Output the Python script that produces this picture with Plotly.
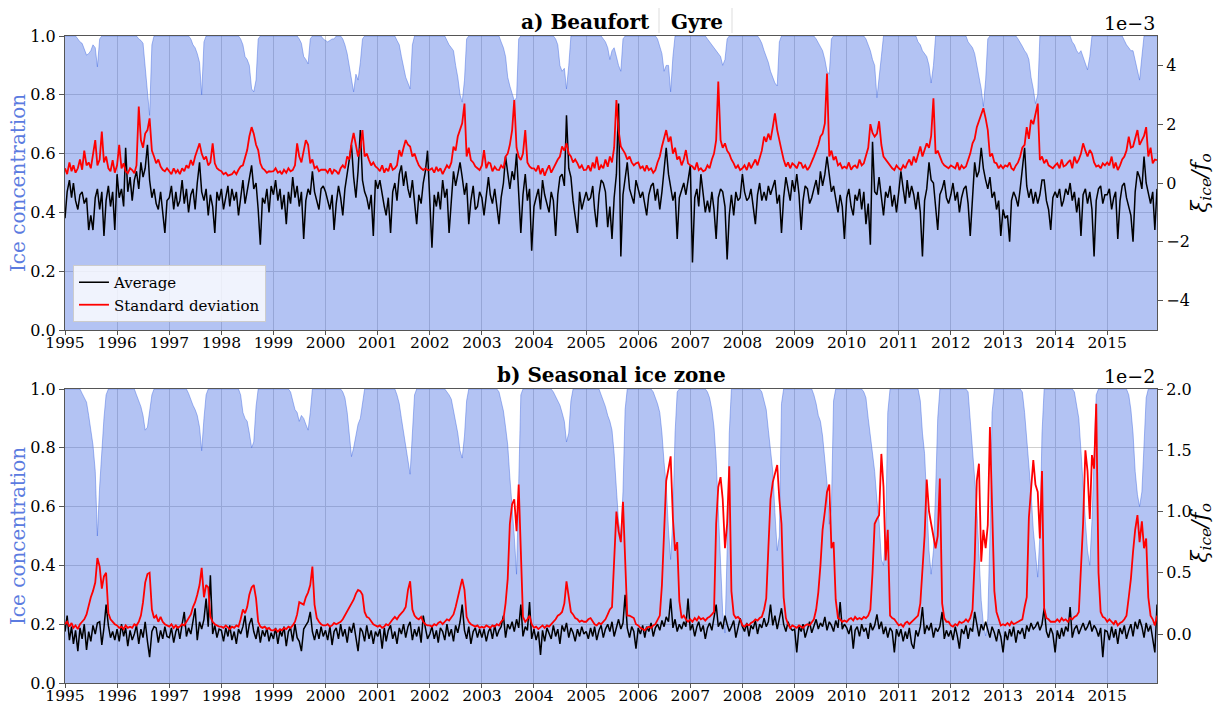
import datetime as dt
import plotly.graph_objects as go

years = list(range(1995, 2016))

# ---- Panel a) Beaufort Gyre : ice concentration (semi-monthly, one row per year)
ice_a = [
 [1,1,1,1,1,1,0.99,0.98,0.975,0.955,0.935,0.94,0.95,0.97,0.96,0.895,0.99,1,1,1,1,1,1,1],
 [1,1,1,1,1,1,1,1,1,1,0.99,0.985,0.975,0.9,0.82,0.73,0.97,1,1,1,1,1,1,1],
 [1,1,1,1,1,1,1,1,1,1,0.99,0.97,0.96,0.94,0.91,0.8,0.98,1,1,1,1,1,1,1],
 [1,1,1,1,1,1,1,1,1,0.99,0.97,0.93,0.92,0.9,0.82,0.81,0.85,0.99,1,1,1,1,1,1],
 [1,1,1,1,1,1,1,1,1,1,1,1,0.99,0.975,0.93,0.92,0.905,0.99,1,1,1,1,1,0.99],
 [0.985,0.98,0.985,0.99,0.99,1,1,1,0.99,0.97,0.94,0.9,0.86,0.81,0.87,0.85,0.91,0.99,1,1,1,1,1,1],
 [1,1,1,1,1,1,1,1,1,0.985,0.97,0.93,0.9,0.86,0.84,0.82,0.97,1,1,1,1,1,1,1],
 [1,1,1,1,1,1,1,1,0.985,0.97,0.96,0.95,0.9,0.86,0.8,0.775,0.85,0.99,1,1,1,1,1,1],
 [1,1,1,1,1,1,1,1,1,0.98,0.96,0.93,0.86,0.83,0.8,0.78,0.79,0.99,1,1,1,1,1,1],
 [1,1,1,1,1,1,1,1,1,1,0.99,0.97,0.9,0.88,0.89,0.82,0.9,1,1,1,1,1,1,1],
 [1,1,1,1,1,1,1,1,0.99,0.98,0.96,0.92,0.95,0.96,0.93,0.9,0.88,0.99,1,1,1,1,1,1],
 [1,1,1,1,1,1,1,1,1,0.99,0.96,0.94,0.88,0.9,0.9,0.81,0.93,1,1,1,1,1,1,1],
 [1,1,1,1,1,1,1,1,0.99,0.98,0.97,0.96,0.95,0.94,0.93,0.9,0.92,0.99,1,1,1,1,1,1],
 [1,1,1,1,1,1,1,1,0.99,0.975,0.95,0.93,0.91,0.88,0.86,0.84,0.83,0.98,1,1,1,1,1,1],
 [1,1,1,1,1,1,1,1,1,1,0.99,0.975,0.96,0.95,0.92,0.88,0.87,0.99,1,1,1,1,1,1],
 [1,1,1,1,1,1,1,1,1,0.99,0.97,0.95,0.92,0.9,0.79,0.87,0.93,1,1,1,1,1,1,1],
 [1,1,1,1,1,1,1,1,1,0.98,0.97,0.95,0.94,0.93,0.9,0.84,0.9,1,1,1,1,1,1,1],
 [1,1,1,1,1,1,1,1,0.98,0.97,0.96,0.94,0.9,0.85,0.82,0.76,0.85,0.99,1,1,1,1,1,1],
 [1,1,1,1,1,1,1,0.99,0.975,0.965,0.95,0.94,0.92,0.86,0.82,0.77,0.8,1,1,1,1,1,1,1],
 [1,1,1,1,1,1,1,1,0.98,0.97,0.95,0.94,0.95,0.93,0.91,0.885,0.93,1,1,1,1,1,1,1],
 [1,1,1,1,1,1,1,1,0.985,0.97,0.96,0.95,0.95,0.92,0.88,0.85,0.93,1,1,1,1,1,1,1],
]

# ---- Panel a) average of xi_ice/f_o (units of 1e-3)
avg_a = [
 [-1.2,-0.3,0.1,-0.5,0.0,-0.6,-0.9,-0.4,-0.3,-0.7,-0.5,-1.6,-1.1,-1.6,-0.5,-0.2,-0.9,-0.3,-1.8,-0.6,-0.1,-0.8,-0.3,-1.6],
 [0.3,-0.5,-0.2,-0.8,1.2,-0.3,0.2,-0.6,0.1,0.4,-0.2,0.7,0.2,0.5,1.3,0.1,-0.5,-0.2,-0.7,-0.9,-0.3,-1.1,-1.7,-0.6],
 [-0.5,-0.1,-0.9,-0.3,-0.8,-0.6,0.1,-0.7,-0.2,-1.0,-0.4,-0.2,-0.9,0.0,0.7,-0.3,-0.6,-0.2,-1.1,-0.4,-0.8,-1.7,-0.3,-0.6],
 [-0.2,-0.9,-0.5,-0.1,-0.8,-0.2,-0.6,-0.3,-1.1,-0.4,0.1,-0.7,-0.3,0.2,0.6,-0.2,0.0,-0.9,-2.1,-0.5,-0.7,-0.2,-1.0,-0.1],
 [-0.4,0.1,-0.6,-0.2,-0.9,-0.4,-1.4,-0.3,-0.7,0.2,-0.5,-0.1,-0.8,-0.3,-1.9,-0.6,-0.2,-0.4,0.4,-0.3,-0.6,-0.9,-0.2,-0.1],
 [-0.3,-0.6,-0.9,-0.4,-1.6,-0.7,-0.1,-0.5,-1.1,-0.2,0.3,0.9,1.3,0.2,-0.5,0.4,1.8,0.1,-0.3,-0.5,-0.9,-0.4,-1.8,0.1],
 [-0.2,0.1,-0.4,-0.8,-1.1,-0.5,-1.7,-0.3,0.0,-0.6,0.3,0.6,-0.1,0.4,-0.2,-0.5,0.1,-0.8,-1.4,-0.4,-0.7,0.0,0.4,1.1],
 [-0.6,-2.2,-0.4,-0.8,-0.3,-0.9,0.1,-0.5,-0.2,-1.7,-0.6,0.4,-0.1,0.3,0.7,0.2,-0.4,0.0,-1.4,-0.6,-0.1,-0.9,-0.8,-0.3],
 [-0.5,-1.1,-0.3,0.2,-0.4,-0.7,-0.2,-0.9,-1.4,-0.5,0.0,0.9,0.3,-0.2,0.4,0.1,1.0,-0.3,-1.7,-0.4,0.3,-0.6,-0.2,-2.3],
 [-0.8,-0.5,-0.2,-0.9,0.1,-0.4,-0.7,-1.0,-0.3,-0.6,-1.8,-0.4,0.2,0.3,-0.1,2.3,0.5,0.2,-0.6,-1.1,-1.7,-0.3,-0.9,-0.6],
 [-0.3,-0.6,-0.5,-0.1,-0.9,-1.5,-0.4,0.1,0.0,-0.3,-1.5,-0.8,-1.9,-0.5,0.3,2.7,-2.5,-0.4,0.2,0.7,-0.2,-0.5,-0.7,0.1],
 [-0.2,-0.5,-0.3,-0.8,-1.1,-0.4,-0.1,0.0,-0.6,-0.2,-0.9,-0.3,0.4,1.2,0.3,-0.1,-0.6,-0.3,-1.9,-0.5,-0.2,0.0,-0.4,0.1],
 [0.6,-2.7,-0.5,-0.2,-0.8,0.3,-0.4,-1.0,-0.6,-1.0,-0.3,-0.9,-1.9,-0.5,-0.2,-0.3,-0.8,-2.6,-1.1,-0.4,-1.1,-0.3,-0.6,-0.5],
 [0.3,-0.3,-0.6,-0.5,-0.2,-0.9,-1.4,-0.4,0.0,-0.6,-0.3,-0.6,-0.1,-0.4,-0.1,0.1,-0.7,-0.4,-1.7,-0.5,0.2,-0.2,-0.6,0.1],
 [-0.3,0.3,-0.4,-1.6,-0.6,-0.1,-0.2,-0.7,-0.5,-0.2,0.1,-0.4,0.4,-0.1,0.3,0.9,0.2,-0.3,-0.1,-0.6,-1.0,-0.4,-0.8,-1.9],
 [-0.5,-0.2,-0.8,-1.1,-0.4,-0.6,-0.2,-0.9,-0.3,-1.4,-0.7,-2.1,1.4,-0.3,-0.4,0.2,-0.6,-1.1,-0.3,-0.5,-0.1,-0.8,-0.4,-1.0],
 [-0.3,0.4,-0.2,-0.7,0.1,-0.5,-0.1,-0.4,-0.9,-0.3,-1.0,-2.5,-0.6,-0.2,0.7,0.1,0.0,-0.7,-1.6,-0.4,-0.2,0.1,-0.5,-0.7],
 [-0.4,0.0,-0.6,-0.3,-1.0,-0.5,-0.2,-0.1,-0.7,-1.8,-0.3,0.7,0.2,0.4,1.2,0.5,0.1,-0.2,0.2,-0.5,-0.3,-0.9,-0.6,-1.8],
 [-0.9,-1.2,-1.1,-2.0,-0.6,-0.3,-0.5,-0.8,-0.2,0.4,1.2,-0.1,-0.5,-0.2,-0.7,-0.3,-0.7,-0.4,0.1,0.1,-0.6,-0.9,-1.6,-0.5],
 [-0.3,-0.5,-0.2,-0.8,-0.6,-0.2,-0.4,0.0,-0.6,-0.3,-1.0,-0.5,-1.8,-0.4,-0.2,-0.7,-0.3,-0.9,-2.5,-0.6,-0.2,-0.1,-0.7,-0.4],
 [-0.4,-0.2,-0.9,-0.5,-0.3,-1.9,-0.6,-0.1,0.0,-0.5,-0.8,-1.1,-2.0,-0.3,0.4,0.2,-0.2,0.9,0.0,-0.4,-0.7,-0.3,-1.6,-0.2],
]

# ---- Panel a) standard deviation (units of 1e-3)
std_a = [
 [0.5,0.3,0.7,0.4,0.6,0.35,0.5,0.8,0.45,1.1,0.6,0.7,0.5,0.9,1.46,0.6,0.8,1.75,0.7,0.9,0.5,0.4,0.78,0.35],
 [0.6,1.3,0.5,0.67,0.4,0.33,0.5,0.44,0.33,0.6,2.6,1.46,1.2,1.68,1.8,2.2,1.1,0.9,0.67,0.8,0.56,0.45,0.4,0.5],
 [0.4,0.3,0.5,0.35,0.44,0.3,0.5,0.4,0.6,0.5,0.78,0.6,0.9,1.1,1.35,1.0,0.8,0.9,0.6,0.7,1.35,0.67,0.5,0.44],
 [0.4,0.3,0.35,0.25,0.27,0.3,0.4,0.3,0.45,0.56,0.6,0.9,1.12,1.58,1.9,1.68,1.3,1.12,0.67,0.5,0.44,0.35,0.4,0.39],
 [0.4,0.5,0.35,0.4,0.3,0.45,0.35,0.5,0.4,0.44,0.6,1.35,0.9,0.7,1.1,1.46,1.3,0.67,0.8,0.5,0.56,0.4,0.45,0.44],
 [0.45,0.35,0.5,0.3,0.45,0.4,0.3,0.5,0.6,0.5,0.9,0.8,1.35,1.7,1.3,0.9,1.2,1.8,0.9,1.0,0.78,0.6,0.7,0.56],
 [0.5,0.4,0.6,0.35,0.5,0.4,0.67,0.45,0.5,0.6,1.12,0.9,1.2,1.46,1.3,1.24,0.9,1.0,0.78,0.6,0.5,0.44,0.5,0.44],
 [0.45,0.5,0.35,0.55,0.4,0.5,0.3,0.45,0.6,0.5,0.7,1.24,1.1,1.58,1.8,2.03,2.7,0.9,1.2,0.78,0.7,0.56,0.5,0.44],
 [0.6,1.12,0.5,0.7,0.67,0.4,0.55,0.45,0.44,0.6,0.5,0.9,1.0,1.3,1.8,2.82,1.2,0.9,0.78,1.0,1.8,0.7,0.56,0.5],
 [0.5,0.4,0.6,0.3,0.5,0.25,0.45,0.6,0.35,0.5,0.67,0.8,0.9,1.24,1.1,1.35,1.0,0.9,0.7,0.8,0.67,0.5,0.6,0.44],
 [0.45,0.6,0.4,0.7,0.5,0.9,0.45,0.6,0.5,0.8,0.55,0.9,0.7,1.2,2.82,1.8,1.24,1.1,1.0,0.8,0.9,0.7,0.6,0.67],
 [0.7,0.5,0.56,0.4,0.6,0.44,0.5,0.35,0.44,0.7,0.9,1.24,1.5,1.8,1.4,1.58,1.0,1.2,0.8,0.9,0.6,0.8,1.12,0.67],
 [0.6,0.56,0.45,0.7,0.44,0.5,0.4,0.44,0.6,0.5,0.8,1.0,1.46,3.45,1.46,1.2,1.35,1.1,1.0,0.8,0.67,0.5,0.6,0.44],
 [0.5,0.6,0.44,0.7,0.5,0.67,0.8,0.6,0.9,1.1,1.58,1.4,1.68,1.46,1.9,2.37,1.8,1.4,1.12,0.8,0.56,0.7,0.5,0.67],
 [0.6,0.5,0.7,0.67,0.5,0.6,0.44,0.55,0.7,0.9,1.1,1.3,1.58,1.68,2.03,3.72,0.9,1.1,0.78,0.9,0.6,0.67,0.5,0.56],
 [0.5,0.7,0.45,0.56,0.6,0.5,0.8,0.6,0.67,0.9,1.2,2.0,1.7,1.58,1.68,2.1,1.3,0.9,0.8,0.67,0.6,0.5,0.44,0.6],
 [0.5,0.44,0.6,0.5,0.67,0.8,0.6,0.9,0.7,1.0,1.24,0.9,1.1,1.35,1.2,1.6,2.88,1.0,1.1,0.9,0.7,0.6,0.56,0.5],
 [0.6,0.56,0.5,0.7,0.44,0.6,0.5,0.56,0.8,1.0,1.35,1.5,1.9,2.1,2.37,2.54,2.2,1.8,0.9,1.0,0.7,0.67,0.5,0.6],
 [0.5,0.6,0.56,0.7,0.5,0.44,0.6,0.7,0.9,1.2,1.3,1.9,1.5,2.15,2.0,2.37,2.7,0.78,0.9,0.67,0.8,0.6,0.56,0.5],
 [0.6,0.67,0.5,0.8,0.56,0.6,0.7,0.78,0.5,0.9,0.67,0.8,1.0,1.35,1.1,0.9,1.12,1.0,0.7,0.56,0.6,0.5,0.67,0.6],
 [0.7,0.6,0.9,0.5,0.7,0.44,0.6,0.8,0.9,1.1,1.58,1.2,1.24,1.5,1.8,1.3,1.46,1.6,1.9,0.9,1.2,0.67,0.8,0.78],
]

# ---- Panel b) Seasonal ice zone : ice concentration
ice_b = [
 [1,1,1,1,1,1,1,1,0.985,0.97,0.955,0.91,0.86,0.81,0.72,0.5,0.67,0.8,0.9,0.98,1,1,1,1],
 [1,1,1,1,1,1,1,1,1,0.98,0.96,0.94,0.91,0.86,0.87,0.92,0.98,1,1,1,1,1,1,1],
 [1,1,1,1,1,1,1,1,1,0.985,0.96,0.945,0.93,0.91,0.87,0.79,0.9,0.98,1,1,1,1,1,1],
 [1,1,1,1,1,1,1,1,1,0.98,0.92,0.9,0.89,0.85,0.8,0.82,0.94,1,1,1,1,1,1,1],
 [1,1,1,1,1,1,1,1,0.99,0.96,0.93,0.92,0.89,0.91,0.9,0.88,0.86,0.92,1,1,1,1,1,1],
 [1,1,1,1,1,1,1,1,0.99,0.97,0.92,0.85,0.77,0.8,0.84,0.88,0.9,0.96,1,1,1,1,1,1],
 [1,1,1,1,1,1,1,1,1,0.98,0.95,0.9,0.85,0.8,0.76,0.71,0.85,0.98,1,1,1,1,1,1],
 [1,1,1,1,1,1,1,1,0.99,0.98,0.965,0.93,0.89,0.85,0.79,0.765,0.84,0.96,1,1,1,1,1,1],
 [1,1,1,1,1,1,1,1,0.99,0.96,0.925,0.87,0.81,0.7,0.6,0.5,0.37,0.7,0.98,1,1,1,1,1],
 [1,1,1,1,1,1,1,1,1,0.99,0.975,0.96,0.945,0.92,0.89,0.82,0.85,0.96,1,1,1,1,1,1],
 [1,1,1,1,1,1,1,0.98,0.96,0.94,0.91,0.89,0.86,0.78,0.66,0.55,0.5,0.65,0.93,1,1,1,1,1],
 [1,1,1,1,1,1,1,0.99,0.97,0.95,0.92,0.85,0.75,0.67,0.52,0.42,0.56,0.85,0.99,1,1,1,1,1],
 [1,1,1,1,1,1,1,1,0.99,0.97,0.93,0.87,0.76,0.58,0.4,0.24,0.17,0.45,0.85,1,1,1,1,1],
 [1,1,1,1,1,1,1,1,1,0.99,0.96,0.93,0.86,0.8,0.72,0.58,0.45,0.5,0.95,1,1,1,1,1],
 [1,1,1,1,1,1,1,1,1,0.98,0.95,0.91,0.89,0.84,0.76,0.68,0.54,0.6,0.96,1,1,1,1,1],
 [1,1,1,1,1,1,1,1,0.99,0.97,0.9,0.84,0.78,0.72,0.62,0.55,0.42,0.4,0.5,0.92,1,1,1,1],
 [1,1,1,1,1,1,1,1,1,1,0.96,0.85,0.78,0.62,0.45,0.37,0.45,0.65,0.9,1,1,1,1,1],
 [1,1,1,1,1,1,1,1,0.99,0.9,0.8,0.7,0.6,0.44,0.28,0.2,0.16,0.22,0.5,0.92,1,1,1,1],
 [1,1,1,1,1,1,1,1,1,0.99,0.92,0.83,0.75,0.65,0.52,0.43,0.36,0.5,0.85,1,1,1,1,1],
 [1,1,1,1,1,1,1,1,1,0.99,0.95,0.9,0.79,0.66,0.55,0.45,0.4,0.55,0.79,0.98,1,1,1,1],
 [1,1,1,1,1,1,1,1,1,1,0.98,0.93,0.85,0.72,0.64,0.6,0.65,0.8,0.97,1,1,1,1,1],
]

# ---- Panel b) average (units of 1e-2)
avg_b = [
 [0.02,0.15,-0.05,0.06,-0.08,0.03,-0.14,0.05,-0.04,0.08,-0.13,0.02,-0.06,0.07,0.0,0.09,0.1,-0.09,0.05,0.24,0.07,-0.03,0.02,-0.05],
 [0.04,-0.06,0.08,-0.02,0.05,-0.1,0.03,-0.05,0.0,0.07,-0.08,0.04,-0.03,0.1,-0.06,-0.19,0.02,0.06,0.05,-0.07,0.03,-0.04,0.06,-0.02],
 [-0.03,0.05,-0.07,0.02,0.06,-0.04,0.08,0.18,-0.02,0.05,0.0,0.09,0.21,-0.05,0.1,0.04,0.12,0.29,0.06,0.48,0.0,0.07,-0.03,0.04],
 [0.03,-0.06,0.05,-0.02,0.07,-0.05,0.02,-0.08,0.04,0.0,0.06,0.15,-0.03,0.08,0.13,0.02,-0.04,0.06,-0.07,0.03,-0.02,0.05,-0.06,0.01],
 [-0.04,0.05,-0.08,0.03,-0.02,0.06,-0.1,0.02,0.05,-0.06,0.08,-0.03,-0.06,-0.14,0.04,0.07,0.1,0.18,0.02,-0.05,0.04,-0.04,0.06,-0.02],
 [0.03,-0.05,0.06,-0.09,0.02,0.05,-0.04,0.08,-0.02,0.04,-0.07,0.06,0.01,0.09,-0.03,-0.14,0.05,0.02,-0.06,0.07,-0.04,0.03,-0.08,0.02],
 [-0.02,0.04,-0.12,0.05,-0.06,0.03,0.07,-0.04,0.02,-0.08,0.05,0.0,0.08,-0.03,0.06,0.1,-0.05,0.04,-0.02,0.06,-0.07,0.15,0.05,-0.04],
 [0.0,0.06,-0.04,0.03,-0.07,0.05,0.02,-0.05,0.08,-0.02,0.04,-0.06,0.07,0.01,0.1,0.24,0.03,-0.04,0.06,-0.08,0.02,0.05,-0.03,0.04],
 [-0.03,0.04,-0.06,0.02,0.05,-0.04,0.07,-0.02,0.03,0.06,0.15,-0.03,0.08,0.04,0.1,0.02,0.12,0.05,0.24,-0.02,0.06,0.03,0.26,-0.04],
 [0.04,-0.05,0.02,-0.17,0.03,-0.06,0.05,0.0,-0.04,0.07,-0.02,0.04,-0.08,0.07,0.02,0.09,-0.03,0.05,0.01,-0.06,0.04,-0.02,0.06,0.0],
 [0.02,-0.04,0.05,-0.02,0.06,-0.05,0.03,0.07,-0.03,0.04,0.08,0.02,0.1,-0.02,0.06,0.12,0.04,0.09,0.32,0.05,-0.03,0.06,0.02,-0.12],
 [0.05,0.0,0.07,-0.03,0.06,0.02,0.09,-0.02,0.05,0.08,0.03,0.11,0.06,0.14,0.1,0.29,0.05,0.12,0.02,0.08,0.04,0.1,0.06,0.29],
 [0.03,0.08,-0.02,0.06,0.1,0.02,0.07,-0.04,0.05,0.09,0.03,0.12,0.24,0.06,0.1,0.04,0.15,0.08,0.02,0.06,0.11,-0.03,0.05,0.13],
 [0.06,0.02,0.09,-0.02,0.07,0.04,0.11,0.0,0.08,0.05,0.13,0.06,0.1,0.24,0.07,0.15,0.04,0.12,0.21,0.08,0.02,0.1,0.05,0.03],
 [0.04,-0.15,0.06,0.02,0.08,-0.03,0.05,0.1,0.01,0.07,0.12,0.04,0.09,0.06,0.14,0.03,0.1,0.07,0.02,0.11,0.05,0.26,0.04,0.08],
 [0.05,0.0,0.07,-0.12,0.03,0.06,-0.02,0.08,0.02,0.05,-0.04,0.09,0.03,0.07,0.16,0.04,0.1,0.0,0.06,-0.03,0.05,0.02,-0.15,0.04],
 [-0.02,0.04,-0.06,0.02,-0.04,0.05,-0.08,-0.12,0.03,-0.02,0.06,0.22,0.0,0.07,0.03,0.09,-0.03,0.05,0.02,0.06,0.18,-0.04,0.03,-0.02],
 [0.03,-0.05,0.06,-0.02,-0.12,0.04,0.0,0.07,-0.04,0.05,0.02,0.18,0.06,-0.02,0.08,0.03,0.1,0.04,-0.03,0.06,0.01,-0.06,0.04,-0.02],
 [-0.15,0.02,-0.05,0.04,-0.02,0.06,-0.07,0.03,0.0,0.05,-0.04,0.07,0.02,0.09,0.04,0.06,0.1,0.03,0.08,0.21,0.02,-0.03,0.05,0.0],
 [-0.15,0.03,-0.04,0.05,-0.02,0.06,0.02,0.22,-0.03,0.04,0.07,0.0,0.05,0.09,0.03,0.06,0.11,0.02,0.07,0.04,-0.02,0.05,-0.19,0.03],
 [0.02,-0.05,0.06,-0.03,0.04,-0.08,0.05,0.0,0.07,-0.04,0.03,0.08,-0.02,0.1,0.04,0.12,0.06,-0.03,0.09,0.02,0.07,-0.06,-0.15,0.24],
]

# ---- Panel b) standard deviation (units of 1e-2)
std_b = [
 [0.08,0.1,0.06,0.09,0.05,0.07,0.04,0.08,0.1,0.12,0.16,0.24,0.3,0.35,0.42,0.62,0.55,0.37,0.47,0.5,0.17,0.12,0.1,0.08],
 [0.07,0.05,0.06,0.04,0.07,0.05,0.06,0.05,0.08,0.07,0.1,0.15,0.26,0.42,0.49,0.5,0.2,0.13,0.15,0.1,0.14,0.1,0.08,0.07],
 [0.06,0.08,0.05,0.07,0.05,0.06,0.08,0.07,0.1,0.13,0.16,0.22,0.26,0.32,0.4,0.54,0.3,0.4,0.38,0.14,0.1,0.08,0.07,0.06],
 [0.06,0.05,0.07,0.05,0.04,0.06,0.05,0.07,0.06,0.12,0.2,0.17,0.22,0.32,0.38,0.4,0.29,0.1,0.06,0.05,0.06,0.04,0.05,0.03],
 [0.03,0.04,0.02,0.04,0.03,0.05,0.04,0.06,0.05,0.07,0.1,0.16,0.26,0.25,0.24,0.3,0.34,0.4,0.55,0.24,0.13,0.1,0.08,0.07],
 [0.07,0.08,0.06,0.07,0.09,0.08,0.09,0.1,0.12,0.15,0.18,0.22,0.24,0.28,0.33,0.36,0.35,0.32,0.18,0.14,0.13,0.1,0.08,0.07],
 [0.06,0.07,0.05,0.06,0.08,0.07,0.1,0.12,0.14,0.12,0.15,0.17,0.19,0.22,0.36,0.43,0.2,0.15,0.13,0.12,0.14,0.1,0.08,0.07],
 [0.07,0.06,0.08,0.07,0.09,0.1,0.08,0.1,0.12,0.11,0.14,0.16,0.22,0.29,0.38,0.45,0.36,0.14,0.1,0.08,0.07,0.06,0.07,0.05],
 [0.06,0.05,0.07,0.06,0.05,0.07,0.06,0.08,0.07,0.1,0.12,0.25,0.45,0.9,1.06,1.1,0.84,1.22,0.6,0.14,0.1,0.12,0.15,0.08],
 [0.05,0.06,0.04,0.06,0.07,0.05,0.07,0.06,0.08,0.1,0.12,0.15,0.16,0.18,0.25,0.43,0.3,0.18,0.16,0.13,0.12,0.1,0.11,0.1],
 [0.1,0.12,0.13,0.1,0.08,0.07,0.09,0.08,0.1,0.12,0.16,0.2,0.22,0.65,1.0,0.84,0.75,1.08,0.6,0.15,0.15,0.14,0.13,0.08],
 [0.07,0.05,0.04,0.03,0.05,0.06,0.05,0.07,0.08,0.12,0.15,0.4,0.8,1.25,1.35,1.45,0.94,0.68,0.75,0.27,0.13,0.15,0.12,0.1],
 [0.12,0.1,0.13,0.11,0.14,0.12,0.13,0.11,0.13,0.14,0.16,0.18,0.9,1.2,1.28,1.1,0.7,0.9,1.37,0.35,0.16,0.13,0.14,0.12],
 [0.07,0.06,0.08,0.07,0.09,0.1,0.12,0.11,0.13,0.14,0.2,0.29,0.7,1.1,1.24,1.3,1.38,1.1,0.9,0.3,0.13,0.08,0.05,0.07],
 [0.06,0.05,0.07,0.06,0.05,0.07,0.08,0.07,0.1,0.12,0.2,0.34,0.56,0.85,1.0,1.16,1.22,0.7,0.75,0.28,0.13,0.12,0.1,0.11],
 [0.1,0.12,0.13,0.11,0.14,0.12,0.13,0.12,0.14,0.13,0.15,0.2,0.5,0.9,0.94,0.97,1.47,1.2,0.6,0.85,0.15,0.13,0.12,0.1],
 [0.07,0.08,0.06,0.09,0.1,0.08,0.1,0.11,0.13,0.15,0.25,0.5,0.8,1.26,1.0,0.9,0.81,0.7,0.8,1.27,0.25,0.13,0.1,0.1],
 [0.07,0.06,0.08,0.07,0.1,0.09,0.1,0.12,0.1,0.13,0.2,0.6,1.25,1.39,0.59,0.85,0.7,0.89,1.69,0.94,0.35,0.18,0.12,0.07],
 [0.08,0.07,0.09,0.07,0.1,0.08,0.09,0.1,0.11,0.12,0.22,0.3,0.95,1.2,1.42,1.22,1.16,0.78,1.33,0.21,0.13,0.12,0.1,0.1],
 [0.1,0.12,0.1,0.13,0.11,0.12,0.1,0.13,0.12,0.14,0.15,0.18,0.54,0.9,1.5,1.33,0.94,1.46,1.35,1.88,0.5,0.18,0.14,0.13],
 [0.1,0.12,0.1,0.08,0.11,0.07,0.09,0.1,0.12,0.15,0.3,0.45,0.67,0.85,0.97,0.75,0.92,0.7,0.78,0.3,0.15,0.12,0.07,0.15],
]

x_tick_years = [str(y) for y in years]


def flatten(rows):
    """Semi-monthly samples (1st and 16th of every month) for each year row."""
    xs, ys = [], []
    for yr, row in zip(years, rows):
        for k, v in enumerate(row):
            xs.append(dt.date(yr, k // 2 + 1, 1 if k % 2 == 0 else 16))
            ys.append(v)
    return xs, ys


FONT = "DejaVu Serif"
FILL = "rgba(65,105,225,0.40)"
EDGE = "rgba(65,105,225,0.45)"
LINE = "#555555"
GRID = "#cfcfcf"

fig = go.Figure()

for (ice, avg, std, xa, ya, ya2, leg) in [
    (ice_a, avg_a, std_a, "x", "y", "y2", True),
    (ice_b, avg_b, std_b, "x2", "y3", "y4", False),
]:
    xi, yi = flatten(ice)
    fig.add_trace(go.Scatter(x=xi, y=yi, xaxis=xa, yaxis=ya, mode="lines",
                             fill="tozeroy", fillcolor=FILL,
                             line=dict(color=EDGE, width=1),
                             showlegend=False, hoverinfo="skip"))
    xv, yv = flatten(avg)
    fig.add_trace(go.Scatter(x=xv, y=yv, xaxis=xa, yaxis=ya2, mode="lines",
                             name="Average", line=dict(color="black", width=1.5),
                             showlegend=leg))
    xs, ys = flatten(std)
    fig.add_trace(go.Scatter(x=xs, y=ys, xaxis=xa, yaxis=ya2, mode="lines",
                             name="Standard deviation", line=dict(color="red", width=1.8),
                             showlegend=leg))

x_range = [dt.date(1995, 1, 1), dt.date(2015, 12, 16)]
tickvals_x = [dt.date(y, 1, 1) for y in years]

xcommon = dict(type="date", range=x_range, tickvals=tickvals_x, ticktext=x_tick_years,
               showgrid=True, gridcolor=GRID, gridwidth=1, ticks="outside", ticklen=4,
               tickcolor=LINE, showline=True, mirror=True, linecolor=LINE, linewidth=1.3,
               zeroline=False, tickfont=dict(size=15.5), automargin=False,
               ticklabelstandoff=-6)
yleft = dict(range=[0, 1], tickvals=[0, 0.2, 0.4, 0.6, 0.8, 1.0],
             ticktext=["0.0", "0.2", "0.4", "0.6", "0.8", "1.0"],
             showgrid=True, gridcolor=GRID, gridwidth=1, ticks="outside", ticklen=5,
             tickcolor=LINE, showline=True, mirror=True, linecolor=LINE, linewidth=1.3,
             zeroline=False, tickfont=dict(size=16), automargin=False)
yright = dict(side="right", showgrid=False, ticks="outside", ticklen=5, tickcolor=LINE,
              showline=True, linecolor=LINE, linewidth=1.3, zeroline=False,
              tickfont=dict(size=16), automargin=False)

top_dom = [0.5456, 1.0]
bot_dom = [0.0, 0.4544]

fig.update_layout(
    width=1217, height=706,
    margin=dict(l=65, r=60, t=36, b=23, autoexpand=False),
    paper_bgcolor="white", plot_bgcolor="white",
    font=dict(family=FONT, size=16, color="black"),
    xaxis=dict(domain=[0, 1], anchor="y", **xcommon),
    yaxis=dict(domain=top_dom, anchor="x", **yleft),
    yaxis2=dict(overlaying="y", anchor="x", range=[-5, 5],
                tickvals=[-4, -2, 0, 2, 4], ticktext=["\u22124", "\u22122", "0", "2", "4"],
                **yright),
    xaxis2=dict(domain=[0, 1], anchor="y3", **xcommon),
    yaxis3=dict(domain=bot_dom, anchor="x2", **yleft),
    yaxis4=dict(overlaying="y3", anchor="x2", range=[-0.4, 2.0],
                tickvals=[0, 0.5, 1.0, 1.5, 2.0],
                ticktext=["0.0", "0.5", "1.0", "1.5", "2.0"], **yright),
    legend=dict(x=0.0073, y=0.558, xanchor="left", yanchor="bottom",
                bgcolor="rgba(255,255,255,0.8)", bordercolor="#cccccc", borderwidth=1,
                font=dict(family=FONT, size=15), tracegroupgap=0),
    showlegend=True,
)

ann = []
# title a) is split in two pieces, as in the original where "Gyre" sits apart
ann.append(dict(text="<b>a) Beaufort</b>", x=(652 - 65) / 1092, y=1.0, xref="paper", yref="paper",
                xanchor="right", yanchor="bottom", showarrow=False, font=dict(size=20)))
ann.append(dict(text="<b>Gyre</b>", x=(669 - 65) / 1092, y=1.0, xref="paper", yref="paper",
                xanchor="left", yanchor="bottom", showarrow=False, font=dict(size=20)))
ann.append(dict(text="<b>b) Seasonal ice zone</b>", x=0.5, y=0.4544, xref="paper", yref="paper",
                xanchor="center", yanchor="bottom", showarrow=False, font=dict(size=20)))
ann.append(dict(text="1e\u22123", x=1.0, y=1.0, xref="paper", yref="paper",
                xanchor="right", yanchor="bottom", showarrow=False, font=dict(size=19)))
ann.append(dict(text="1e\u22122", x=1.0, y=0.4544, xref="paper", yref="paper",
                xanchor="right", yanchor="bottom", showarrow=False, font=dict(size=19)))
for yc in (0.7728, 0.2272):
    ann.append(dict(text="Ice concentration", x=-0.043, y=yc, xref="paper", yref="paper",
                    xanchor="center", yanchor="middle", textangle=-90, showarrow=False,
                    font=dict(size=20, color="#5b7be0")))
for yc in (0.7728, 0.232):
    ann.append(dict(text="<i>\u03be<sub>ice</sub>/f<sub>o</sub></i>", x=1.041, y=yc,
                    xref="paper", yref="paper", xanchor="center", yanchor="middle",
                    textangle=-90, showarrow=False, font=dict(size=22)))
fig.update_layout(annotations=ann)

# faint frame lines around "Gyre" seen in the original title
for xp in ((659 - 65) / 1092, (732 - 65) / 1092):
    fig.add_shape(type="line", xref="paper", yref="paper", x0=xp, x1=xp,
                  y0=1.0046, y1=1.0433, line=dict(color="#dddddd", width=1))

fig.write_html("out.html",
               config={"displayModeBar": False},
               post_script="document.body.style.margin='0px';"
                           "document.body.style.overflow='hidden';")
